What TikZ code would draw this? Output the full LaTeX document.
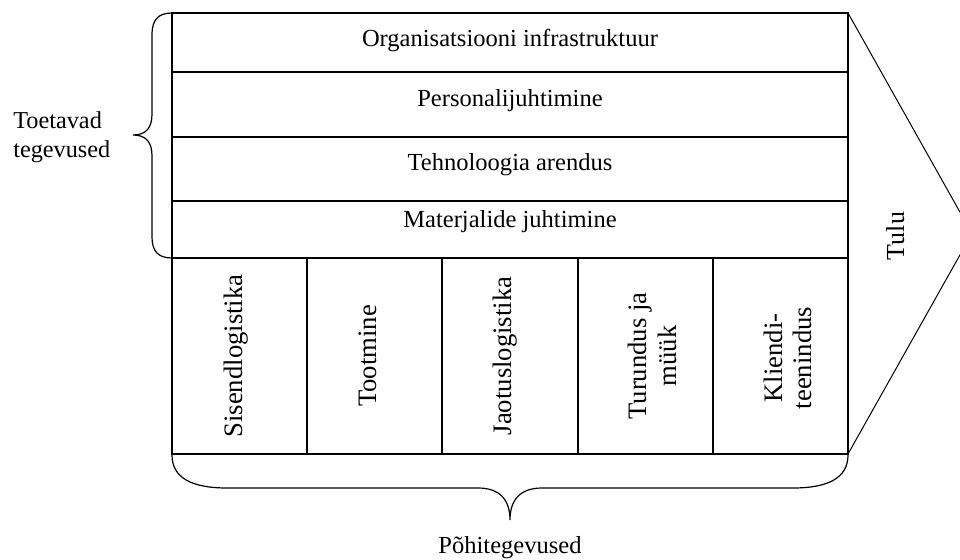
\documentclass[tikz,border=0pt]{standalone}
\usepackage{fontspec}
\setmainfont{Liberation Serif}
\begin{document}
\begin{tikzpicture}[x=0.75pt,y=-0.75pt,
  gridline/.style={line width=1.5pt, line cap=rect},
  thinline/.style={line width=0.75pt},
  bracestyle/.style={line width=0.9pt},
  rowlabel/.style={inner sep=0pt, anchor=base, font=\fontsize{18.4}{22}\selectfont},
  collabel/.style={inner sep=0pt, rotate=90, align=center, font=\fontsize{20}{22.5}\selectfont},
  sidelabel/.style={inner sep=0pt, align=left, font=\fontsize{18.2}{21.75}\selectfont}]
\useasboundingbox (0,0) rectangle (960,560);
\clip (0,0) rectangle (960,560);
% frame corners
\coordinate (TL) at (172,13);
\coordinate (TR) at (848,13);
\coordinate (BL) at (172,454);
\coordinate (BR) at (848,454);
\coordinate (tip) at (972,233.5);
% arrow head (value margin)
\draw[thinline] (TR) -- (tip) -- (BR);
% row separators
\foreach \n/\y in {a/72,b/137,c/201,d/258}{
  \coordinate (L\n) at (172,\y);
  \coordinate (R\n) at (848,\y);
}
% column separators
\foreach \n/\x in {1/307,2/442,3/578,4/713}{
  \coordinate (C\n t) at (\x,258);
  \coordinate (C\n b) at (\x,454);
}
\draw[gridline] (TL) rectangle (BR);
\foreach \n in {a,b,c,d} \draw[gridline] (L\n) -- (R\n);
\foreach \n in {1,2,3,4} \draw[gridline] (C\n t) -- (C\n b);
% support activities
\node[rowlabel] (org) at (510,47) {Organisatsiooni infrastruktuur};
\node[rowlabel] (pers) at (510,107) {Personalijuhtimine};
\node[rowlabel] (tehn) at (510,170) {Tehnoloogia arendus};
\node[rowlabel] (mat) at (510,227) {Materjalide juhtimine};
% primary activities
\node[collabel, anchor=base] (sis) at (242,356) {Sisendlogistika};
\node[collabel, anchor=base] (toot) at (376.5,356) {Tootmine};
\node[collabel, anchor=base] (jao) at (511,356) {Jaotuslogistika};
\node[collabel, anchor=center] (tur) at (652.5,356) {Turundus ja\\müük};
\node[collabel, anchor=center, font=\fontsize{20}{21.5}\selectfont] (kli) at (788,358) {Kliendi-\\teenindus};
% margin
\node[collabel, anchor=base, font=\fontsize{19.5}{22}\selectfont] (tulu) at (904,236) {Tulu};
% left brace
\coordinate (lbtop) at (172,13);
\coordinate (lbtip) at (133,135);
\coordinate (lbbot) at (172,258);
\draw[bracestyle] (lbtop) .. controls (158,13) and (152,20) .. (152,35)
  -- (152,114) .. controls (152,128) and (146,135) .. (lbtip)
  .. controls (146,135) and (152,142) .. (152,156)
  -- (152,237) .. controls (152,251) and (158,258) .. (lbbot);
\node[sidelabel, anchor=west] (toet) at (13,137) {Toetavad\\tegevused};
% bottom brace
\coordinate (bbl) at (172,455);
\coordinate (bbtip) at (510,520);
\coordinate (bbr) at (848,455);
\draw[bracestyle] (bbl) .. controls (172,478) and (192,488) .. (227,488)
  -- (478,488) .. controls (500,488) and (510,500) .. (bbtip)
  .. controls (510,500) and (520,488) .. (542,488)
  -- (793,488) .. controls (828,488) and (848,478) .. (bbr);
\node[rowlabel] (pohi) at (510,553) {Põhitegevused};
\end{tikzpicture}
\end{document}
